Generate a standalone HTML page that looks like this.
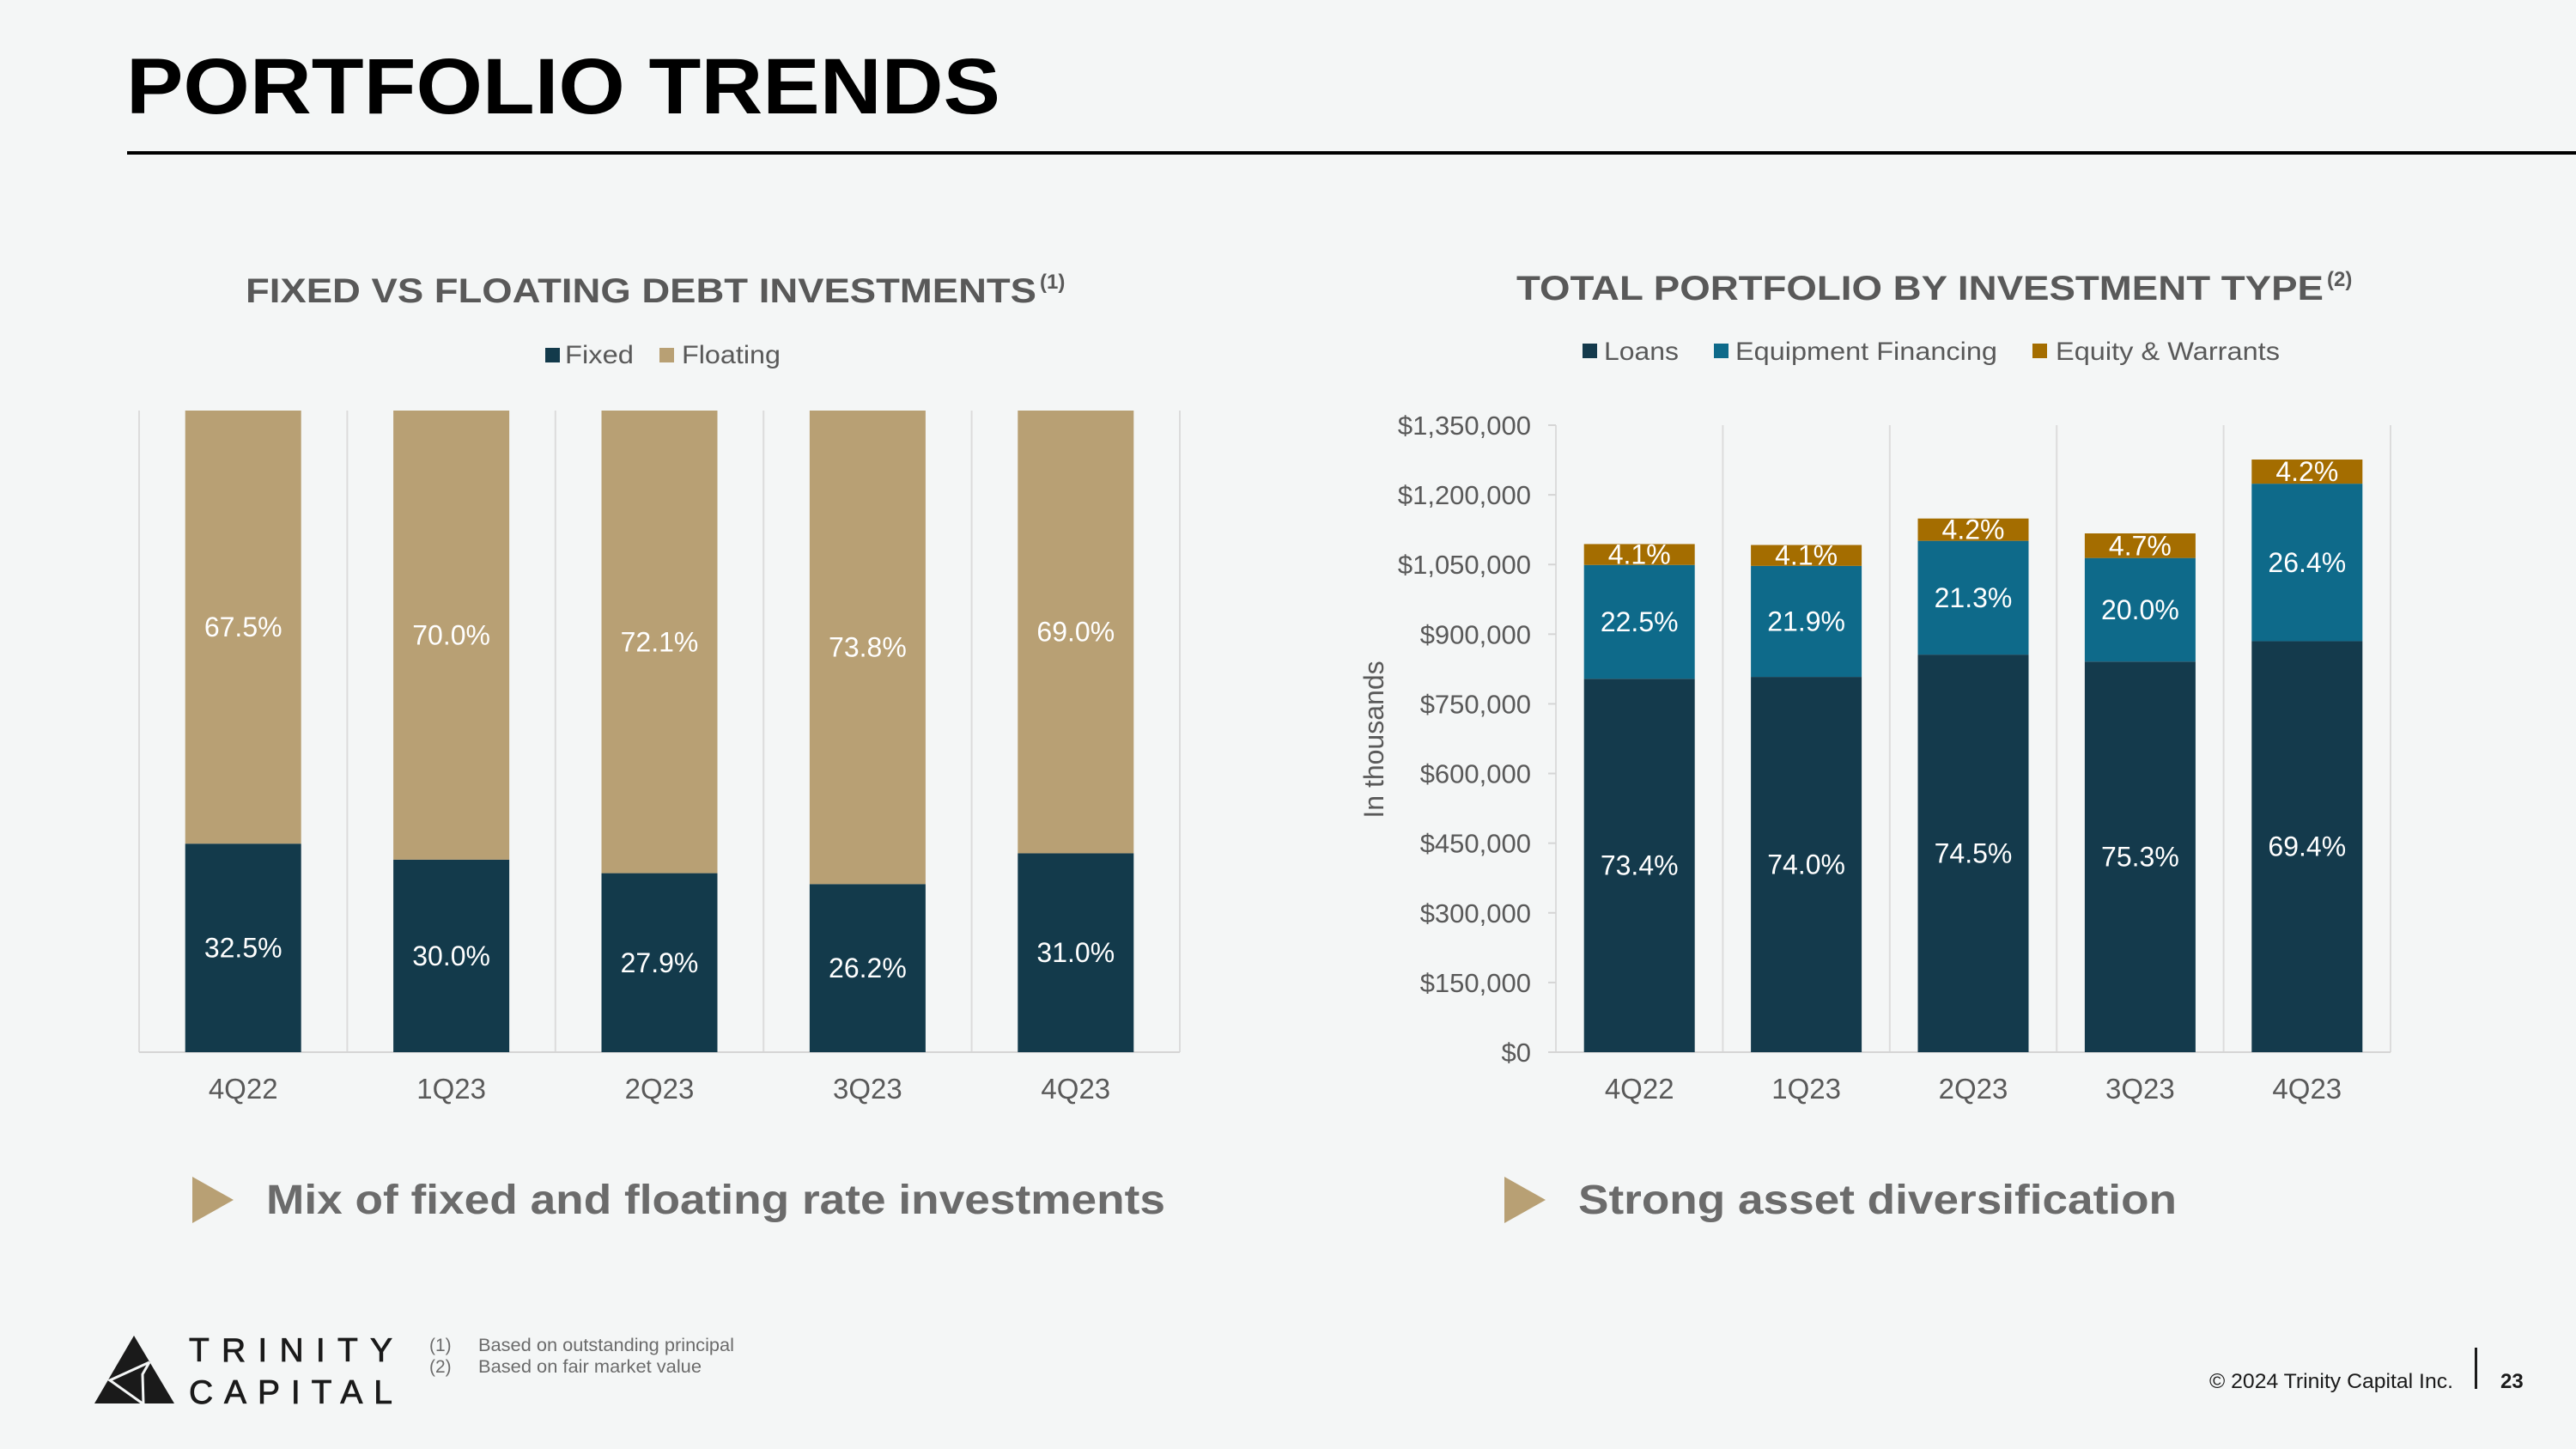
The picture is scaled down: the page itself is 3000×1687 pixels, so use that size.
<!DOCTYPE html>
<html><head><meta charset="utf-8"><style>
html,body{margin:0;padding:0;background:#f4f6f6;}
svg{display:block;font-family:"Liberation Sans",Arial,sans-serif;}
</style></head><body>
<svg id="slide" width="3000" height="1687" viewBox="0 0 3000 1687" xmlns="http://www.w3.org/2000/svg">
<rect x="0" y="0" width="3000" height="1687" fill="#f4f6f6"/>
<text x="147" y="132" font-size="92" font-weight="bold" fill="#000" textLength="1018" lengthAdjust="spacingAndGlyphs">PORTFOLIO TRENDS</text>
<rect x="148" y="176" width="2852" height="4" fill="#000"/>

<text x="286" y="352" font-size="40" font-weight="bold" fill="#595959" textLength="921" lengthAdjust="spacingAndGlyphs">FIXED VS FLOATING DEBT INVESTMENTS</text>
<text x="1211" y="336" font-size="24" font-weight="bold" fill="#595959">(1)</text>
<g>
<rect x="635" y="405" width="17" height="17" fill="#133a4b"/>
<text x="658" y="423" font-size="30" fill="#595959" textLength="80" lengthAdjust="spacingAndGlyphs">Fixed</text>
<rect x="768" y="405" width="17" height="17" fill="#b8a074"/>
<text x="794" y="423" font-size="30" fill="#595959" textLength="115" lengthAdjust="spacingAndGlyphs">Floating</text>
</g>
<g id="leftChart"></g>

<text x="1766" y="349" font-size="40" font-weight="bold" fill="#595959" textLength="940" lengthAdjust="spacingAndGlyphs">TOTAL PORTFOLIO BY INVESTMENT TYPE</text>
<text x="2710" y="333" font-size="24" font-weight="bold" fill="#595959">(2)</text>
<g>
<rect x="1843" y="400" width="17" height="17" fill="#143a4c"/>
<text x="1868" y="419" font-size="30" fill="#595959" textLength="87" lengthAdjust="spacingAndGlyphs">Loans</text>
<rect x="1996" y="400" width="17" height="17" fill="#0e6a8a"/>
<text x="2021" y="419" font-size="30" fill="#595959" textLength="305" lengthAdjust="spacingAndGlyphs">Equipment Financing</text>
<rect x="2367" y="400" width="17" height="17" fill="#a46d00"/>
<text x="2394" y="419" font-size="30" fill="#595959" textLength="261" lengthAdjust="spacingAndGlyphs">Equity &amp; Warrants</text>
</g>
<text x="0" y="0" font-size="32" fill="#595959" transform="translate(1611,861) rotate(-90)" text-anchor="middle">In thousands</text>
<g id="rightChart"></g>

<polygon points="224,1370 272,1397 224,1424" fill="#b8a074"/>
<text x="310" y="1413" font-size="48" font-weight="bold" fill="#6b6b6b" textLength="1047" lengthAdjust="spacingAndGlyphs">Mix of fixed and floating rate investments</text>
<polygon points="1752,1370 1800,1397 1752,1424" fill="#b8a074"/>
<text x="1838" y="1413" font-size="48" font-weight="bold" fill="#6b6b6b" textLength="697" lengthAdjust="spacingAndGlyphs">Strong asset diversification</text>

<g>
<polygon points="156,1555 110,1634 203,1634" fill="#1a1a1a"/>
<polyline points="174,1586 128,1607 166,1634" fill="none" stroke="#f4f6f6" stroke-width="3"/>
<polyline points="174,1586 166,1600 167,1634" fill="none" stroke="#f4f6f6" stroke-width="3"/>
<text x="220" y="1585" font-size="39" fill="#1a1a1a" stroke="#1a1a1a" stroke-width="0.8" textLength="237" lengthAdjust="spacing">TRINITY</text>
<text x="220" y="1634" font-size="39" fill="#1a1a1a" stroke="#1a1a1a" stroke-width="0.8" textLength="237" lengthAdjust="spacing">CAPITAL</text>
</g>
<g font-size="21" fill="#6b6b6b">
<text x="500" y="1573">(1)</text>
<text x="557" y="1573" textLength="298" lengthAdjust="spacingAndGlyphs">Based on outstanding principal</text>
<text x="500" y="1598">(2)</text>
<text x="557" y="1598" textLength="260" lengthAdjust="spacingAndGlyphs">Based on fair market value</text>
</g>
<text x="2573" y="1616" font-size="24" fill="#1a1a1a" textLength="284" lengthAdjust="spacingAndGlyphs">© 2024 Trinity Capital Inc.</text>
<rect x="2882" y="1569" width="3" height="48" fill="#1a1a1a"/>
<text x="2912" y="1616" font-size="24" font-weight="bold" fill="#1a1a1a">23</text>
</svg>
<script>
const categories = ["4Q22","1Q23","2Q23","3Q23","4Q23"];
const fixedPct = [32.5,30.0,27.9,26.2,31.0];
const floatingPct = [67.5,70.0,72.1,73.8,69.0];
const loans = [804000,808000,856000,841000,885000];
const equipment = [245000,239000,245000,223000,339000];
const equity = [45000,45000,48000,53000,52000];
const loansPct = ["73.4%","74.0%","74.5%","75.3%","69.4%"];
const equipmentPct = ["22.5%","21.9%","21.3%","20.0%","26.4%"];
const equityPct = ["4.1%","4.1%","4.2%","4.7%","4.2%"];
const yTicks = [0,150000,300000,450000,600000,750000,900000,1050000,1200000,1350000];
const yTickLabels = ["$0","$150,000","$300,000","$450,000","$600,000","$750,000","$900,000","$1,050,000","$1,200,000","$1,350,000"];

const NS = "http://www.w3.org/2000/svg";
function mk(parent, tag, attrs, txt){
  const e = document.createElementNS(NS, tag);
  for (const k in attrs) e.setAttribute(k, attrs[k]);
  if (txt !== undefined) e.textContent = txt;
  parent.appendChild(e);
  return e;
}

// Left chart
(function(){
  const g = document.getElementById('leftChart');
  const x0 = 162, x1 = 1374, yTop = 478, yBot = 1225;
  const cw = (x1 - x0) / categories.length, bw = 135;
  const ys = v => yBot - (v / 100) * (yBot - yTop);
  for (let i = 0; i <= categories.length; i++) {
    const l = mk(g, 'line', {x1: x0 + i*cw, x2: x0 + i*cw, y1: yTop, y2: yBot, stroke: '#dcdcdc', 'stroke-width': 2});
    
    
  }
  const base = mk(g, 'line', {x1: x0, x2: x1, y1: yBot, y2: yBot, stroke: '#d5d5d5', 'stroke-width': 2});
  
  
  categories.forEach((c, i) => {
    const bx = x0 + i*cw + (cw - bw)/2, cx = x0 + i*cw + cw/2;
    const yF = ys(fixedPct[i]), yT = ys(fixedPct[i] + floatingPct[i]);
    const r1 = mk(g, 'rect', {x: bx, y: yF, width: bw, height: yBot - yF, fill: '#133a4b'});
    
    
    const r2 = mk(g, 'rect', {x: bx, y: yT, width: bw, height: yF - yT, fill: '#b8a074'});
    
    
    const t1 = mk(g, 'text', {x: cx, y: (yF + yBot)/2 + 11, 'font-size': 32, fill: '#fff', 'text-anchor': 'middle'}, fixedPct[i].toFixed(1) + '%');
    
    
    const t2 = mk(g, 'text', {x: cx, y: (yF + yT)/2 + 11, 'font-size': 32, fill: '#fff', 'text-anchor': 'middle'}, floatingPct[i].toFixed(1) + '%');
    
    
    const t3 = mk(g, 'text', {x: cx, y: 1279, 'font-size': 33, fill: '#595959', 'text-anchor': 'middle'}, c);
    
    
  });
})();

// Right chart
(function(){
  const g = document.getElementById('rightChart');
  const x0 = 1812, x1 = 2784, yBot = 1225, yTop = 495, maxV = 1350000;
  const cw = (x1 - x0) / categories.length, bw = 129;
  const ys = v => yBot - (v / maxV) * (yBot - yTop);
  for (let i = 0; i <= categories.length; i++) {
    const l = mk(g, 'line', {x1: x0 + i*cw, x2: x0 + i*cw, y1: yTop, y2: yBot, stroke: '#dcdcdc', 'stroke-width': 2});
    
    
  }
  yTicks.forEach((v, i) => {
    const tk = mk(g, 'line', {x1: x0 - 9, x2: x0, y1: ys(v), y2: ys(v), stroke: '#d5d5d5', 'stroke-width': 2});
    
    
    const t = mk(g, 'text', {x: 1783, y: ys(v) + 11, 'font-size': 31, fill: '#595959', 'text-anchor': 'end'}, yTickLabels[i]);
    
    
  });
  const base = mk(g, 'line', {x1: x0 - 9, x2: x1, y1: yBot, y2: yBot, stroke: '#d5d5d5', 'stroke-width': 2});
  
  
  categories.forEach((c, i) => {
    const bx = x0 + i*cw + (cw - bw)/2, cx = x0 + i*cw + cw/2;
    const yL = ys(loans[i]), yE = ys(loans[i] + equipment[i]), yQ = ys(loans[i] + equipment[i] + equity[i]);
    const r1 = mk(g, 'rect', {x: bx, y: yL, width: bw, height: yBot - yL, fill: '#143a4c'});
    
    
    const r2 = mk(g, 'rect', {x: bx, y: yE, width: bw, height: yL - yE, fill: '#0e6a8a'});
    
    
    const r3 = mk(g, 'rect', {x: bx, y: yQ, width: bw, height: yE - yQ, fill: '#a46d00'});
    
    
    const t1 = mk(g, 'text', {x: cx, y: (yL + yBot)/2 + 11, 'font-size': 32, fill: '#fff', 'text-anchor': 'middle'}, loansPct[i]);
    
    
    const t2 = mk(g, 'text', {x: cx, y: (yL + yE)/2 + 11, 'font-size': 32, fill: '#fff', 'text-anchor': 'middle'}, equipmentPct[i]);
    
    
    const t3 = mk(g, 'text', {x: cx, y: (yE + yQ)/2 + 11, 'font-size': 32, fill: '#fff', 'text-anchor': 'middle'}, equityPct[i]);
    
    
    const t4 = mk(g, 'text', {x: cx, y: 1279, 'font-size': 33, fill: '#595959', 'text-anchor': 'middle'}, c);
    
    
  });
})();
</script>
</body></html>
